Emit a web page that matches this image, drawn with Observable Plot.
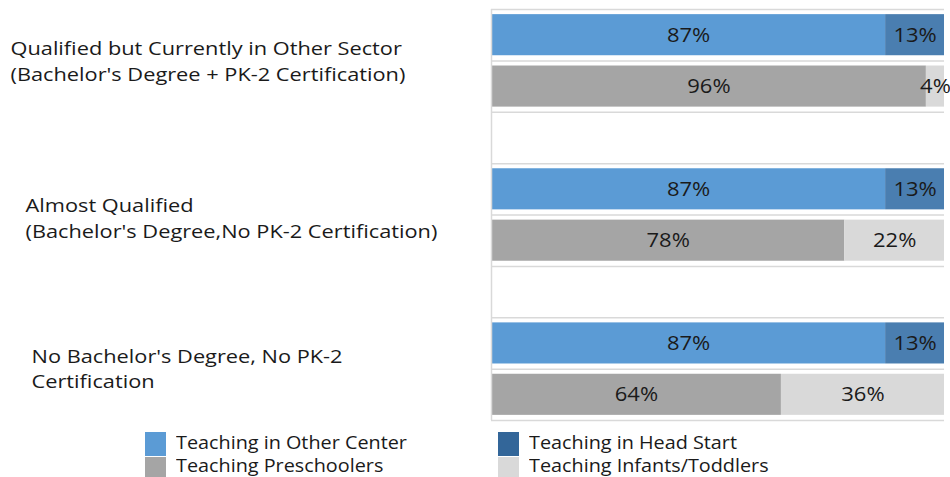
<!DOCTYPE html>
<html><head><meta charset="utf-8">
<script src="https://cdn.jsdelivr.net/npm/d3@7"></script>
<script src="https://cdn.jsdelivr.net/npm/@observablehq/plot@0.6"></script>
<style>
html,body{margin:0;padding:0;background:#fff;}
#wrap{position:relative;width:950px;height:477px;overflow:hidden;font-family:"Open Sans",sans-serif;}
#chart svg{display:block;}
.sw{position:absolute;width:21px;}
.lt{position:absolute;font-size:18px;color:#1a1a1a;line-height:23px;white-space:nowrap;transform:scaleX(1.1);transform-origin:0 50%;}
</style></head><body>
<div id="wrap"><div id="chart"></div><div id="legend"></div></div>
<script>
const groupLabels = [
  "Qualified but Currently in Other Sector\n(Bachelor's Degree + PK-2 Certification)",
  "Almost Qualified\n(Bachelor's Degree,No PK-2 Certification)",
  "No Bachelor's Degree, No PK-2\nCertification"
];
const seriesNames = ["Teaching in Other Center", "Teaching in Head Start", "Teaching Preschoolers", "Teaching Infants/Toddlers"];
const seriesColors = ["#5b9bd5", "#4a7eb0", "#a5a5a5", "#d9d9d9"];
const legendColors = ["#5b9bd5", "#336699", "#a5a5a5", "#d9d9d9"];
const otherCenter = [87, 87, 87];
const headStart = [13, 13, 13];
const preschoolers = [96, 78, 64];
const infants = [4, 22, 36];

// build segments (rows: bar A = 3g, bar B = 3g+1, blank row between groups)
const segments = [];
groupLabels.forEach((_, g) => {
  const pairs = [[otherCenter[g], headStart[g], 0, 1], [preschoolers[g], infants[g], 2, 3]];
  pairs.forEach(([a, b, sa, sb], k) => {
    const row = 3 * g + k;
    segments.push({row, series: seriesNames[sa], x1: 0, x2: a, value: a});
    segments.push({row, series: seriesNames[sb], x1: a, x2: a + b, value: b});
  });
});
const nRows = 3 * groupLabels.length - 1;
const labelRows = groupLabels.map((_, g) => 3 * g + 1);

const labelOffsets = [-481, -466, -460];
const labelDy = [-1, 2, -2];

const chart = Plot.plot({
  width: 950,
  height: 425,
  marginLeft: 491,
  marginRight: 6,
  marginTop: 9,
  marginBottom: 5,
  x: {domain: [0, 100], axis: null},
  y: {domain: [0, nRows], reverse: true, axis: null},
  color: {domain: seriesNames, range: seriesColors},
  style: {fontFamily: "Open Sans", background: "#fff"},
  marks: [
    Plot.ruleY(d3.range(0, nRows + 1), {stroke: "#d9d9d9", strokeWidth: 1.5}),
    Plot.rect(segments, {x1: "x1", x2: "x2", y1: d => d.row + 0.1, y2: d => d.row + 0.9, fill: "series"}),
    Plot.ruleX([0], {stroke: "#d9d9d9", strokeWidth: 1.5}),
    Plot.text(segments, {x: d => (d.x1 + d.x2) / 2, y: d => d.row + 0.5, text: d => `${d.value}%`, fontSize: 20, fill: "#1a1a1a"}),
    ...groupLabels.map((lab, g) => Plot.text([lab], {
      y: () => labelRows[g], text: d => d, frameAnchor: "left", textAnchor: "start",
      lineAnchor: "middle", dx: labelOffsets[g], dy: labelDy[g], fontSize: 18, lineHeight: 1.4, fill: "#1a1a1a"
    }))
  ]
});
document.getElementById("chart").appendChild(chart);

// widen glyphs horizontally to match the reference's wider face
d3.select(chart).selectAll('g[aria-label="text"]').each(function(_, gi) {
  const s = gi === 0 ? 1.1 : 1.21;
  d3.select(this).selectAll("text").each(function() {
    const el = d3.select(this);
    const tr = el.attr("transform");
    if (tr) el.attr("transform", tr + ` scale(${s},1)`);
    else {
      const x = +el.attr("x") || 0, y = +el.attr("y") || 0;
      el.attr("transform", `translate(${x},${y}) scale(${s},1) translate(${-x},${-y})`);
    }
  });
});

// legend (2 columns x 2 rows)
const legend = document.getElementById("legend");
const colX = [145, 498];
const rowTop = [432, 457];
[[0, 0, 0], [1, 1, 0], [2, 0, 1], [3, 1, 1]].forEach(([i, c, r]) => {
  const sw = document.createElement("div");
  sw.className = "sw";
  sw.style.left = colX[c] + "px";
  sw.style.top = rowTop[r] + "px";
  sw.style.height = r === 0 ? "24px" : "22px";
  sw.style.background = legendColors[i];
  legend.appendChild(sw);
  const t = document.createElement("div");
  t.className = "lt";
  t.style.left = (colX[c] + 31) + "px";
  t.style.top = (rowTop[r] - (r === 0 ? 1 : 3)) + "px";
  t.textContent = seriesNames[i];
  legend.appendChild(t);
});
</script>
</body></html>
